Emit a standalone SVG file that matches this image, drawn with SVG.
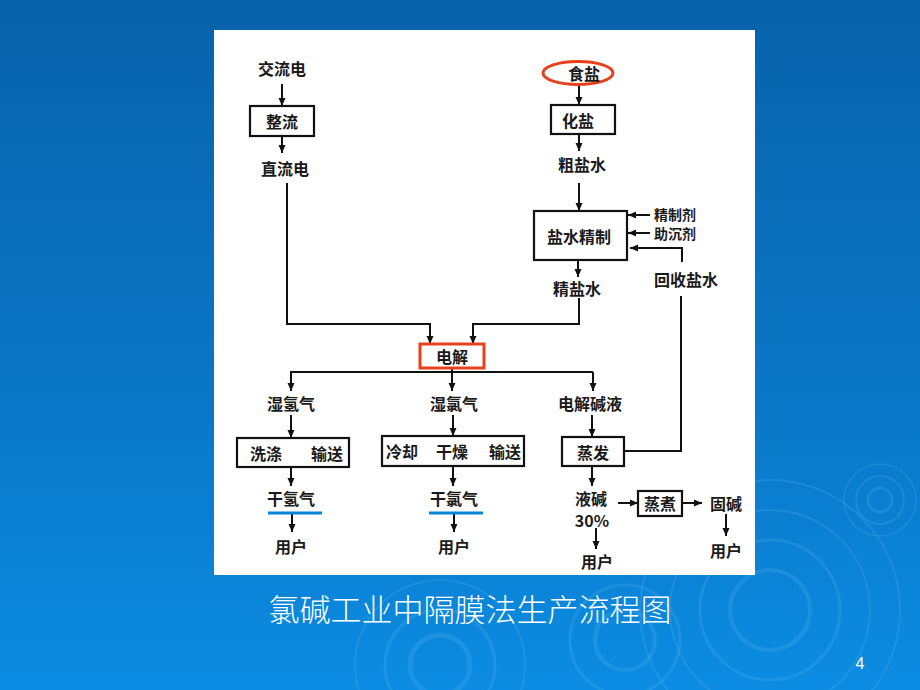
<svg xmlns="http://www.w3.org/2000/svg" width="920" height="690" viewBox="0 0 920 690">
<defs>
<linearGradient id="bg" x1="0" y1="0" x2="0" y2="1">
<stop offset="0" stop-color="#0862aa"/>
<stop offset="0.6" stop-color="#0a78c8"/>
<stop offset="1" stop-color="#0b8ce2"/>
</linearGradient>
<marker id="ah" markerUnits="userSpaceOnUse" markerWidth="8" markerHeight="8" refX="8" refY="4" orient="auto">
<path d="M0,0.5 L8,4 L0,7.5 z" fill="#111"/>
</marker>
<style>
.t{font-family:"Noto Sans CJK SC","Noto Sans",sans-serif;font-size:16px;font-weight:bold;fill:#1a1a1a;text-anchor:middle;dominant-baseline:central}
.s{font-size:14px}
.box{fill:#fff;stroke:#111;stroke-width:2.2}
.red{fill:none;stroke:#e8401c;stroke-width:3}
.ln{fill:none;stroke:#111;stroke-width:2}
.ar{fill:none;stroke:#111;stroke-width:2;marker-end:url(#ah)}
.ul{stroke:#0a84d8;stroke-width:3}
.rp{fill:none;stroke:#5fb4ee;stroke-opacity:0.22}
.cap{font-family:"Noto Sans CJK SC",sans-serif;font-size:31px;font-weight:300;fill:#fff;text-anchor:middle;dominant-baseline:central}
</style>
</defs>
<rect width="920" height="690" fill="url(#bg)"/>
<g id="ripples">
<circle class="rp" cx="880" cy="500" r="12" stroke-width="3"/>
<circle class="rp" cx="880" cy="500" r="24" stroke-width="2"/>
<circle class="rp" cx="880" cy="500" r="36" stroke-width="1.5"/>
<circle class="rp" cx="770" cy="610" r="40" stroke-width="4"/>
<circle class="rp" cx="770" cy="610" r="70" stroke-width="3"/>
<circle class="rp" cx="770" cy="610" r="100" stroke-width="2"/>
<circle class="rp" cx="770" cy="610" r="130" stroke-width="2"/>
<circle class="rp" cx="625" cy="640" r="30" stroke-width="4"/>
<circle class="rp" cx="625" cy="640" r="55" stroke-width="3"/>
<circle class="rp" cx="440" cy="665" r="30" stroke-width="5"/>
<circle class="rp" cx="440" cy="665" r="55" stroke-width="3"/>
<circle class="rp" cx="440" cy="665" r="85" stroke-width="2"/>
</g>
<rect x="214" y="30" width="541" height="545" fill="#fff"/>
<g id="connectors">
<path class="ar" d="M282,84 V106"/>
<path class="ar" d="M282,136 V153"/>
<path class="ar" d="M287,183 V324 H430 V344"/>
<path class="ar" d="M579,85 V105"/>
<path class="ar" d="M579,134 V151"/>
<path class="ar" d="M579,183 V211"/>
<path class="ar" d="M578,260 V277"/>
<path class="ar" d="M579,298 V324 H473 V344"/>
<path class="ar" d="M650,215 H628"/>
<path class="ar" d="M650,233 H628"/>
<path class="ar" d="M682,262 V248 H630"/>
<path class="ln" d="M624,451 H681 V296"/>
<path class="ln" d="M290,372 H593"/>
<path class="ar" d="M291,372 V391"/>
<path class="ar" d="M452,368 V391"/>
<path class="ar" d="M593,372 V391"/>
<path class="ar" d="M291,415 V438"/>
<path class="ar" d="M453,415 V436"/>
<path class="ar" d="M592,415 V437"/>
<path class="ar" d="M291,467 V486"/>
<path class="ar" d="M453,466 V486"/>
<path class="ar" d="M592,466 V486"/>
<path class="ar" d="M292,514 V532"/>
<path class="ar" d="M454,514 V532"/>
<path class="ar" d="M596,528 V549"/>
<path class="ar" d="M618,503 H638"/>
<path class="ar" d="M682,503 H702"/>
<path class="ar" d="M726,514 V536"/>
</g>
<g id="n-jiaoliudian"><text class="t" x="282" y="68">交流电</text></g>
<g id="n-zhengliu"><rect class="box" x="250" y="106" width="64" height="30"/><text class="t" x="282" y="121">整流</text></g>
<g id="n-zhiliudian"><text class="t" x="285" y="168">直流电</text></g>
<g id="n-shiyan"><ellipse class="red" cx="578" cy="73" rx="35" ry="11.5"/><text class="t" x="584" y="73">食盐</text></g>
<g id="n-huayan"><rect class="box" x="551" y="105" width="64" height="29"/><text class="t" x="578" y="120">化盐</text></g>
<g id="n-cuyanshui"><text class="t" x="582" y="164">粗盐水</text></g>
<g id="n-yanshuijingzhi"><rect class="box" x="534" y="211" width="93" height="49"/><text class="t" x="579" y="236">盐水精制</text></g>
<g id="n-jingzhiji"><text class="t s" x="675" y="214">精制剂</text></g>
<g id="n-zhuchenji"><text class="t s" x="675" y="233">助沉剂</text></g>
<g id="n-jingyanshui"><text class="t" x="577" y="288">精盐水</text></g>
<g id="n-huishouyanshui"><text class="t" x="686" y="279">回收盐水</text></g>
<g id="n-dianjie"><rect x="420" y="344" width="64" height="24" fill="#fff" stroke="#e8401c" stroke-width="3"/><text class="t" x="452" y="356">电解</text></g>
<g id="n-shiqingqi"><text class="t" x="291" y="403">湿氢气</text></g>
<g id="n-shilvqi"><text class="t" x="454" y="403">湿氯气</text></g>
<g id="n-dianjiejianye"><text class="t" x="590" y="403">电解碱液</text></g>
<g id="n-xidi"><rect class="box" x="237" y="438" width="112" height="29"/><text class="t" x="266" y="453">洗涤</text><text class="t" x="327" y="453">输送</text></g>
<g id="n-lengque"><rect class="box" x="382" y="436" width="142" height="30"/><text class="t" x="402" y="451">冷却</text><text class="t" x="452" y="451">干燥</text><text class="t" x="505" y="451">输送</text></g>
<g id="n-zhengfa"><rect class="box" x="562" y="437" width="62" height="29"/><text class="t" x="593" y="452">蒸发</text></g>
<g id="n-ganqingqi"><text class="t" x="291" y="498">干氢气</text><line class="ul" x1="268" y1="513" x2="322" y2="513"/></g>
<g id="n-ganlvqi"><text class="t" x="454" y="498">干氯气</text><line class="ul" x1="429" y1="513" x2="483" y2="513"/></g>
<g id="n-yonghu1"><text class="t" x="291" y="546">用户</text></g>
<g id="n-yonghu2"><text class="t" x="454" y="546">用户</text></g>
<g id="n-yejian"><text class="t" x="591" y="498">液碱</text><text class="t" x="592" y="520">30%</text></g>
<g id="n-yonghu3"><text class="t" x="597" y="561">用户</text></g>
<g id="n-zhengzhu"><rect class="box" x="638" y="491" width="44" height="25"/><text class="t" x="660" y="503">蒸煮</text></g>
<g id="n-gujian"><text class="t" x="726" y="503">固碱</text></g>
<g id="n-yonghu4"><text class="t" x="726" y="550">用户</text></g>
<g id="caption"><text class="cap" x="470" y="607">氯碱工业中隔膜法生产流程图</text></g>
<g id="pagenum"><text x="860" y="663" font-family="Liberation Sans,sans-serif" font-size="16" fill="#fff" text-anchor="middle" dominant-baseline="central">4</text></g>
</svg>
